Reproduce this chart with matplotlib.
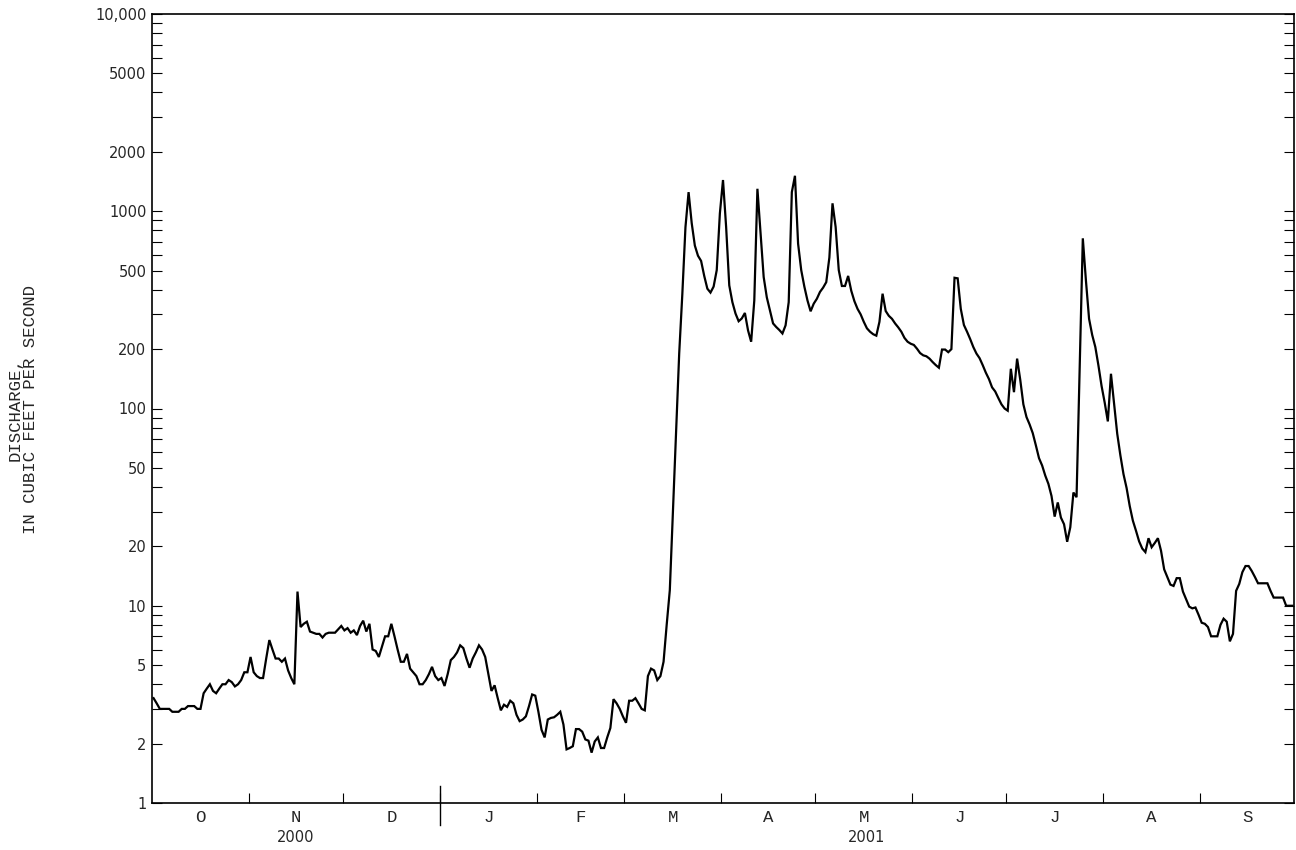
import numpy as np
import matplotlib
matplotlib.use("Agg")
import matplotlib.pyplot as plt
from matplotlib.ticker import FixedLocator, FuncFormatter

# Daily mean discharge, water year 2001 (Oct 1, 2000 - Sep 30, 2001), ft3/s
OCT = [3.4, 3.2, 3.0, 3.0, 3.0, 3.0, 2.9, 2.9, 2.9, 3.0, 3.0, 3.1, 3.1, 3.1, 3.0, 3.0,
       3.6, 3.8, 4.0, 3.7, 3.6, 3.8, 4.0, 4.0, 4.2, 4.1, 3.9, 4.0, 4.2, 4.6, 4.6]
NOV = [5.5, 4.6, 4.4, 4.3, 4.3, 5.4, 6.7, 6.0, 5.4, 5.4, 5.2, 5.4, 4.7, 4.3, 4.0,
       11.8, 7.8, 8.1, 8.3, 7.4, 7.3, 7.2, 7.2, 6.9, 7.2, 7.3, 7.3, 7.3, 7.6, 7.9]
DEC = [7.5, 7.7, 7.3, 7.5, 7.1, 7.9, 8.4, 7.4, 8.1, 6.0, 5.9, 5.5, 6.2, 7.0, 7.0, 8.1,
       7.0, 6.0, 5.2, 5.2, 5.7, 4.8, 4.6, 4.4, 4.0, 4.0, 4.2, 4.5, 4.9, 4.4, 4.2]
JAN = [4.3, 3.92, 4.5, 5.3, 5.5, 5.8, 6.3, 6.1, 5.4, 4.85, 5.4, 5.8, 6.3, 6.0, 5.5, 4.5,
       3.7, 3.95, 3.4, 2.95, 3.15, 3.07, 3.3, 3.2, 2.8, 2.6, 2.65, 2.75, 3.1, 3.55, 3.5]
FEB = [2.9, 2.35, 2.15, 2.65, 2.7, 2.72, 2.8, 2.9, 2.5, 1.87, 1.9, 1.94, 2.37, 2.37,
       2.3, 2.1, 2.07, 1.8, 2.05, 2.15, 1.9, 1.9, 2.15, 2.4, 3.36, 3.2, 3.0, 2.75]
MAR = [2.55, 3.3, 3.3, 3.4, 3.2, 3.0, 2.95, 4.4, 4.8, 4.7, 4.2, 4.4, 5.2, 8.0, 12,
       30, 76, 190, 380, 830, 1250, 870, 670, 595, 560, 470, 405, 387, 415, 503, 975]
APR = [1440, 832, 421, 346, 303, 277, 286, 305, 249, 218, 353, 1300, 771, 464, 366,
       314, 270, 259, 250, 240, 264, 346, 1250, 1513, 685, 503, 415, 353, 311, 340]
MAY = [360, 390, 410, 437, 583, 1097, 832, 503, 418, 418, 470, 395, 350, 320, 300, 275,
       255, 245, 238, 234, 275, 382, 312, 295, 285, 270, 258, 245, 228, 218, 213]
JUN = [210, 201, 191, 186, 184, 179, 172, 166, 161, 199, 199, 193, 200, 460, 457,
       320, 265, 245, 225, 205, 190, 180, 166, 152, 141, 128, 122, 113, 105, 100]
JUL = [97.5, 159, 121, 179, 140, 105, 90.5, 83, 75, 65, 56, 51.4, 45.7, 41.5, 36, 28.3,
       33.4, 28, 25.9, 21.1, 25, 37.5, 35.5, 160, 729, 445, 285, 236, 205, 165, 130]
AUG = [107, 86, 150, 106, 74.5, 58, 46.5, 39.5, 32, 27, 24, 21.2, 19.5, 18.7, 22, 19.8,
       20.8, 22, 19, 15.3, 14, 12.8, 12.6, 13.8, 13.8, 11.8, 10.8, 9.9, 9.7, 9.8, 9.0]
SEP = [8.2, 8.1, 7.8, 7.0, 7.0, 7.0, 8.0, 8.6, 8.3, 6.6, 7.2, 11.9, 12.9, 14.8, 15.9,
       15.9, 15.0, 14.0, 13.0, 13.0, 13.0, 13.0, 11.9, 11.0, 11.0, 11.0, 11.0, 10.0, 10.0, 10.0]

MONTH_LETTERS = ["O", "N", "D", "J", "F", "M", "A", "M", "J", "J", "A", "S"]
YEARS = ["2000", "2001"]
Y_LABELLED = [1, 2, 5, 10, 20, 50, 100, 200, 500, 1000, 2000, 5000, 10000]

months = [OCT, NOV, DEC, JAN, FEB, MAR, APR, MAY, JUN, JUL, AUG, SEP]
flow = np.concatenate([np.asarray(m, dtype=float) for m in months])
days = np.arange(len(flow)) + 0.5
month_len = np.array([len(m) for m in months])
month_start = np.concatenate([[0], np.cumsum(month_len)])
n_days = month_start[-1]

MONO = ["Liberation Mono", "DejaVu Sans Mono"]
SANS = ["DejaVu Sans"]
INK = "#262626"

W, H = 1296, 850
fig = plt.figure(figsize=(W / 100, H / 100), dpi=100)
left, right, top, bottom = 152, 1294, 14, 803
ax = fig.add_axes([left / W, 1 - bottom / H, (right - left) / W, (bottom - top) / H])

ax.plot(days, flow, color="black", lw=1.6, solid_joinstyle="miter", zorder=3)

ax.set_yscale("log")
ax.set_ylim(1, 10000)
ax.set_xlim(0, n_days)

for s in ax.spines.values():
    s.set_linewidth(1.2)
    s.set_color("black")

# y ticks: every 1..9 x 10^k inside on both sides, decades drawn longer
all_y = [m * 10 ** k for k in range(4) for m in range(1, 10)] + [10000]
ax.yaxis.set_major_locator(FixedLocator(all_y))
ax.yaxis.set_minor_locator(FixedLocator([10, 100, 1000]))


def ylab(v, pos):
    v = int(round(v))
    if v not in Y_LABELLED:
        return ""
    return "10,000" if v == 10000 else str(v)


ax.yaxis.set_major_formatter(FuncFormatter(ylab))
ax.yaxis.set_minor_formatter(FuncFormatter(lambda v, p: ""))
ax.tick_params(axis="y", which="major", direction="in", length=7.2, width=0.8,
               left=True, right=True, pad=4, labelsize=10.5, labelcolor=INK)
ax.tick_params(axis="y", which="minor", direction="in", length=13, width=0.8,
               left=True, right=True)
for t in ax.get_yticklabels():
    t.set_family(SANS)

# x ticks at month boundaries
ax.set_xticks(month_start[1:-1])
ax.set_xticklabels([])
ax.tick_params(axis="x", which="major", direction="in", length=7.2, width=0.8,
               bottom=True, top=False)
ax.tick_params(axis="x", which="minor", bottom=False, top=False)

xt = ax.get_xaxis_transform()
to_axes = lambda py: (bottom - py) / (bottom - top)

centers = (month_start[:-1] + month_start[1:]) / 2
for c, lab in zip(centers, MONTH_LETTERS):
    ax.text(c, to_axes(817), lab, transform=xt, ha="center", va="center",
            family=MONO, fontsize=12.5, color=INK)

# calendar-year divider at Jan 1
jan1 = month_start[3]
ax.plot([jan1, jan1], [to_axes(786), to_axes(825)], transform=xt,
        color="black", lw=1.0, clip_on=False)

ax.text(month_start[3] / 2, to_axes(838), YEARS[0], transform=xt, ha="center",
        va="center", family=SANS, fontsize=10.5, color=INK)
ax.text((month_start[3] + n_days) / 2, to_axes(838), YEARS[1], transform=xt,
        ha="center", va="center", family=SANS, fontsize=10.5, color=INK)

ymid = 1 - 409 / H
fig.text(15 / W, ymid, "DISCHARGE,", rotation=90, ha="center", va="center",
         family=MONO, fontsize=12.5, color=INK)
fig.text(31 / W, ymid, "IN CUBIC FEET PER SECOND", rotation=90, ha="center",
         va="center", family=MONO, fontsize=12.5, color=INK)

fig.savefig("out.png", dpi=100)
